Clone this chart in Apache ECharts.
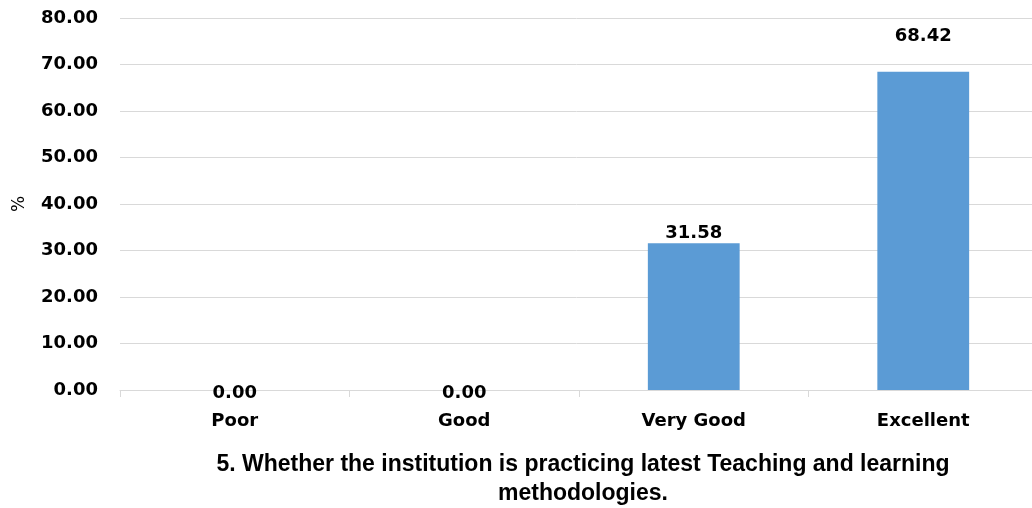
<!DOCTYPE html>
<html>
<head>
<meta charset="utf-8">
<script src="https://cdn.jsdelivr.net/npm/echarts@6/dist/echarts.min.js"></script>
<style>
  html, body { margin: 0; padding: 0; background: #fff; }
  #chart { width: 1032px; height: 508px; }
</style>
</head>
<body>
<div id="chart"></div>
<script>
// Survey responses (percent of respondents)
const categories = ['Poor', 'Good', 'Very Good', 'Excellent'];
const percentages = [0.00, 0.00, 31.58, 68.42];
const yTicks = [0, 10, 20, 30, 40, 50, 60, 70, 80];
const chartTitle = '5. Whether the institution is practicing latest Teaching and learning\nmethodologies.';
const yAxisName = '%';

const labelFont = 'DejaVu Sans';
const titleFont = '"Liberation Sans", sans-serif';

// Excel-style label placement: zero labels sit on the axis, the tallest label floats higher
const labelOffsets = [[0, 13], [0, 13], [0, 0], [0, -26]];

const chart = echarts.init(document.getElementById('chart'), null, { renderer: 'canvas' });

chart.setOption({
  animation: false,
  grid: { left: 120, right: -6, top: 18, bottom: 118, containLabel: false, outerBoundsMode: 'none' },
  title: {
    text: chartTitle,
    left: 578,
    top: 445,
    textAlign: 'center',
    textStyle: {
      fontFamily: titleFont,
      fontSize: 23,
      fontWeight: 'bold',
      color: '#000',
      lineHeight: 29
    }
  },
  xAxis: {
    type: 'category',
    data: categories,
    axisLine: { lineStyle: { color: '#d9d9d9', width: 1 } },
    axisTick: { show: true, length: 7, lineStyle: { color: '#d9d9d9' } },
    axisLabel: {
      fontFamily: labelFont,
      fontSize: 18,
      fontWeight: 'bold',
      color: '#000',
      margin: 22
    }
  },
  yAxis: {
    type: 'value',
    min: yTicks[0],
    max: yTicks[yTicks.length - 1],
    interval: yTicks[1] - yTicks[0],
    name: yAxisName,
    nameLocation: 'middle',
    nameRotate: 90,
    nameGap: 92,
    nameTextStyle: { fontFamily: labelFont, fontSize: 17, color: '#000' },
    axisLine: { show: false },
    axisTick: { show: false },
    splitLine: { lineStyle: { color: '#d9d9d9', width: 1 } },
    axisLabel: {
      fontFamily: labelFont,
      fontSize: 18,
      fontWeight: 'bold',
      color: '#000',
      margin: 22,
      formatter: v => v.toFixed(2)
    }
  },
  series: [{
    type: 'bar',
    barWidth: '40%',
    data: percentages.map((v, i) => ({
      value: v,
      label: { offset: labelOffsets[i] }
    })),
    itemStyle: { color: '#5b9bd5' },
    label: {
      show: true,
      position: 'top',
      distance: 1,
      fontFamily: labelFont,
      fontSize: 18,
      fontWeight: 'bold',
      color: '#000',
      formatter: p => p.value.toFixed(2)
    }
  }]
});
</script>
</body>
</html>
